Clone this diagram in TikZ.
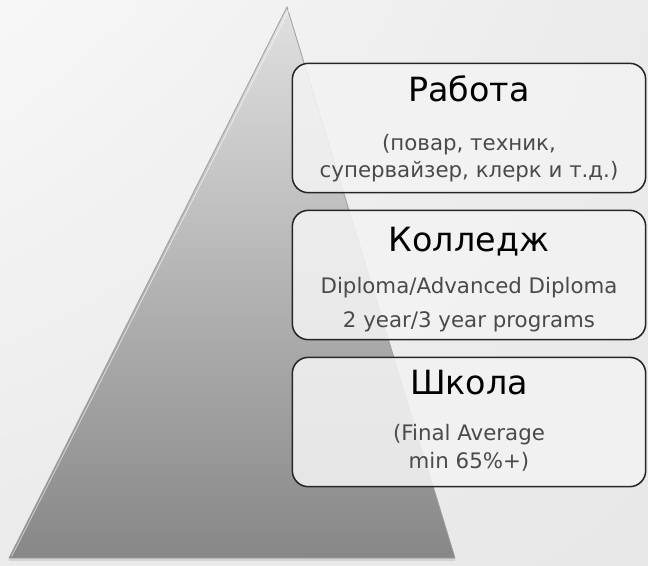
\documentclass[tikz,border=0pt]{standalone}
\usepackage{fontspec}
\setmainfont{DejaVu Sans}
\usetikzlibrary{positioning,shadings}
\definecolor{tierline}{HTML}{262626}
\definecolor{tierfill}{HTML}{F3F3F3}
\definecolor{subtext}{HTML}{4A4A4A}
\newcommand{\titlesize}{\fontsize{25}{30}\selectfont}
\newcommand{\subsize}{\fontsize{16}{20}\selectfont}

\begin{document}
\begin{tikzpicture}[x=0.75pt,y=-0.75pt,
    tier/.style={draw=tierline,line width=1.15pt,rounded corners=12pt,
      fill=tierfill,fill opacity=0.87,text opacity=1,
      minimum width=265pt,minimum height=97pt,inner sep=0pt},
    tiertitle/.style={inner sep=0pt,text=black,font=\titlesize},
    tiersub/.style={inner sep=0pt,text=subtext,font=\subsize}]
      % background
      \useasboundingbox (0,0) rectangle (648,565);
      \shade[upper left=black!3,upper right=black!8,lower left=black!8,lower right=black!9]
        (0,0) rectangle (648,565);

      % pyramid
      \coordinate (apex) at (287,7);
      \coordinate (base-l) at (9,558);
      \coordinate (base-r) at (455,558);
      \fill[black!25,opacity=0.5] ([yshift=-2pt]base-l) -- ([yshift=-2pt]base-r) -- (base-r) -- (base-l) -- cycle;
      \shade[top color=black!12,bottom color=black!47,draw=black!38,line width=0.6pt]
        (apex) -- (base-r) -- (base-l) -- cycle;
      \draw[white,opacity=0.6,line width=0.6pt] ([xshift=1.6pt,yshift=-2pt]apex) -- ([xshift=2pt,yshift=1.2pt]base-l);

      % tiers
      \node[tier] (work)    at (469,128) {};
      \node[tier] (college) at (469,275) {};
      \node[tier] (school)  at (469,422) {};

      \node[tiertitle] (work-t)    at (469,89)  {Работа};
      \node[tiersub]   (work-s1)   at (469,145) {(повар, техник,};
      \node[tiersub]   (work-s2)   at (469,172) {супервайзер, клерк и т.д.)};

      \node[tiertitle] (college-t)  at (469,242) {Колледж};
      \node[tiersub]   (college-s1) at (469,288) {Diploma/Advanced Diploma};
      \node[tiersub]   (college-s2) at (469,322) {2 year/3 year programs};

      \node[tiertitle] (school-t)  at (469,383) {Школа};
      \node[tiersub]   (school-s1) at (469,435) {(Final Average};
      \node[tiersub]   (school-s2) at (469,462) {min 65\%+)};
\end{tikzpicture}
\end{document}
